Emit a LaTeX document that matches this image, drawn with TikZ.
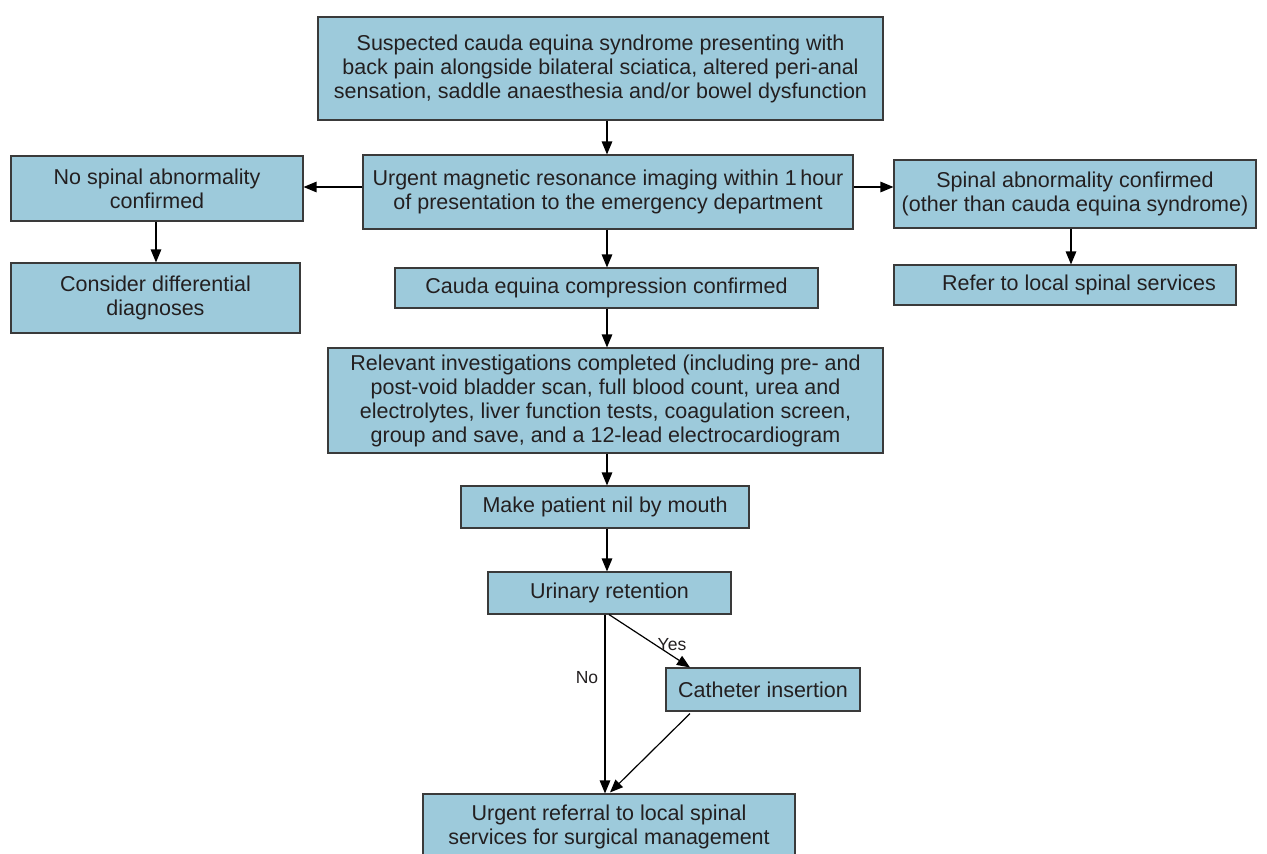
\documentclass[tikz,border=0pt]{standalone}
\usepackage{fontspec}
\setmainfont{Liberation Sans}
\usetikzlibrary{arrows.meta,calc}
\definecolor{boxfill}{HTML}{9DCADB}
\definecolor{boxline}{HTML}{3A3A3A}
\definecolor{txt}{HTML}{231F20}
\tikzset{
  flowbox/.style={draw=boxline, fill=boxfill, line width=1.1pt, inner sep=0pt,
    align=center, text=txt, font=\fontsize{21.5}{24}\selectfont},
  conn/.style={draw=black, line width=1.2pt, -{Triangle[length=13pt,width=10.5pt]}},
  lbl/.style={text=txt, font=\fontsize{17.5}{20}\selectfont, inner sep=0pt}
}
\newcommand{\bx}[6]{% name, x1, y1, x2, y2, text
  \node[flowbox, minimum width=#4pt-#2pt, minimum height=#5pt-#3pt]
    (#1) at ({(#2+#4)/2},{(#3+#5)/2}) {#6};}
\begin{document}
\begin{tikzpicture}[x=1pt,y=-1pt]
\useasboundingbox (0,0) rectangle (1267,854);
\bx{top}{318}{17}{883}{120}{Suspected cauda equina syndrome presenting with\\back pain alongside bilateral sciatica, altered peri-anal\\sensation, saddle anaesthesia and/or bowel dysfunction}
\bx{mri}{363}{155}{853}{229}{Urgent magnetic resonance imaging within 1\,hour\\of presentation to the emergency department}
\bx{nospin}{11}{156}{303}{221}{No spinal abnormality\\confirmed}
\bx{diff}{11}{263}{300}{333}{Consider differential\\diagnoses}
\bx{spin}{894}{160}{1256}{228}{Spinal abnormality confirmed\\(other than cauda equina syndrome)}
\bx{refer}{894}{265}{1236}{305}{\hspace*{28pt}Refer to local spinal services}
\bx{cauda}{395}{268}{818}{308}{Cauda equina compression confirmed}
\bx{invest}{328}{348}{883}{453}{Relevant investigations completed (including pre- and\\post-void bladder scan, full blood count, urea and\\electrolytes, liver function tests, coagulation screen,\\group and save, and a 12-lead electrocardiogram}
\bx{nil}{461}{486}{749}{528}{Make patient nil by mouth}
\bx{ret}{488}{572}{731}{614}{Urinary retention}
\bx{cath}{666}{668}{860}{711}{Catheter insertion}
\bx{refsurg}{423}{794}{795}{859}{Urgent referral to local spinal\\services for surgical management}

\draw[conn] (top.south -| 607,0) -- (mri.north -| 607,0);
\draw[conn] (mri.west) ++(0,-5) coordinate (mw) -- (mw -| nospin.east);
\draw[conn] (mri.east) ++(0,-5) coordinate (me) -- (me -| spin.west);
\draw[conn] (nospin.south -| 156,0) -- (diff.north -| 156,0);
\draw[conn] (spin.south -| 1071,0) -- (refer.north -| 1071,0);
\draw[conn] (mri.south -| 607,0) -- (cauda.north -| 607,0);
\draw[conn] (cauda.south -| 607,0) -- (invest.north -| 607,0);
\draw[conn] (invest.south -| 607,0) -- (nil.north -| 607,0);
\draw[conn] (nil.south -| 607,0) -- (ret.north -| 607,0);
\draw[conn] (ret.south -| 609,0) -- (cath.north -| 690,0);
\draw[conn] (ret.south -| 605,0) -- (refsurg.north -| 605,0);
\draw[conn] ($(cath.south -| 690,0)+(0,2)$) -- ($(refsurg.north -| 610,0)+(0,-1)$);
\node[lbl] (yes) at (672,645) {Yes};
\node[lbl] (no) at (587,678) {No};
\end{tikzpicture}
\end{document}
